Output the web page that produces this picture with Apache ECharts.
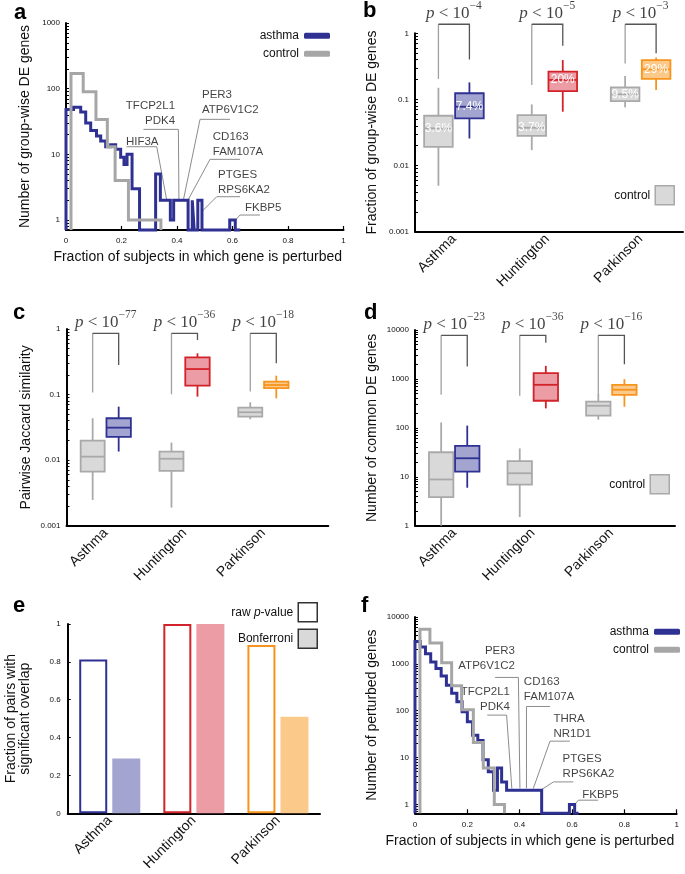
<!DOCTYPE html>
<html><head><meta charset="utf-8">
<script src="https://cdn.jsdelivr.net/npm/echarts@6/dist/echarts.min.js"></script>
<style>html,body{margin:0;padding:0;background:#fff}#c{width:685px;height:874px}</style>
</head><body><div id="c"></div>
<script>
// ================= DATA =================
const diseases = ['Asthma', 'Huntington', 'Parkinson'];
const fractionTickLabels = ['0', '0.2', '0.4', '0.6', '0.8', '1'];

// panel a: number of group-wise DE genes vs fraction of subjects (histogram outlines)
const aAsthmaEdges = [0, 0.027, 0.053, 0.071, 0.089, 0.11, 0.125, 0.143, 0.161, 0.179, 0.197, 0.209, 0.22, 0.238, 0.265, 0.323, 0.34, 0.376, 0.388, 0.44, 0.455, 0.462, 0.475, 0.49, 0.59, 0.61, 0.628];
const aAsthmaCounts = [48, 52, 44, 30, 23, 19, 16, 13, 14, 12, 9, 7, 10, 3, 0, 5, 2, 1, 2, 0, 2, 0, 2, 0, 1, 0];
const aControlEdges = [0.018, 0.062, 0.108, 0.149, 0.177, 0.225, 0.342];
const aControlCounts = [170, 90, 34, 13, 4, 1];
const aYDecades = [0, 1, 2, 3];
const aYTickLabels = ['1', '10', '100', '1000'];
const aGeneTexts = ['HIF3A', 'TFCP2L1\nPDK4', 'PER3\nATP6V1C2', 'CD163\nFAM107A', 'PTGES\nRPS6KA2', 'FKBP5'];
const aGeneAnchorsLog = [[0.216, 1.19], [0.393, 1.629], [0.49, 1.788], [0.529, 1.154], [0.548, 0.571], [0.645, 0.178]];
const aGeneAlign = ['left', 'right', 'left', 'left', 'left', 'left'];
const aGeneLeadersLog = [
  [[0.218, 1.116], [0.327, 1.116], [0.363, 0.304]],
  [[0.279, 1.38], [0.405, 1.38], [0.407, 0.279]],
  [[0.591, 1.533], [0.483, 1.533], [0.423, 0.304]],
  [[0.627, 0.924], [0.519, 0.924], [0.441, 0.315]],
  [[0.627, 0.355], [0.543, 0.355], [0.489, 0.126]],
  [[0.699, 0.076], [0.627, 0.076], [0.609, -0.01]]
];

// panel b: fraction of group-wise DE genes  [min, q1, median, q3, max]
const bControl = [[0.00495, 0.0192, 0.0365, 0.0567, 0.150], [0.0171, 0.0282, 0.0373, 0.0578, 0.084], [0.076, 0.0946, 0.12, 0.152, 0.226]];
const bDisease = [[0.0257, 0.0517, 0.0776, 0.124, 0.181], [0.0652, 0.134, 0.197, 0.263, 0.394], [0.139, 0.204, 0.285, 0.394, 0.43]];
const bControlLabels = ['3.6%', '3.7%', '9.5%'];
const bDiseaseLabels = ['7.4%', '20%', '29%'];
const bBrackets = [[0.204, 1.37, 0.40], [0.165, 1.37, 0.65], [0.35, 1.37, 0.50]]; // [left leg end, top, right leg end]
const bExponents = ['\u22124', '\u22125', '\u22123'];
const bYDecades = [-3, -2, -1, 0];
const bYTickLabels = ['0.001', '0.01', '0.1', '1'];

// panel c: pairwise Jaccard similarity
const cControl = [[0.00247, 0.00668, 0.0113, 0.0198, 0.0435], [0.00189, 0.00684, 0.0105, 0.0135, 0.0185], [0.042, 0.046, 0.0537, 0.063, 0.0763]];
const cDisease = [[0.0135, 0.0226, 0.0313, 0.0435, 0.0654], [0.093, 0.137, 0.245, 0.37, 0.426], [0.0877, 0.125, 0.14, 0.157, 0.194]];
const cBrackets = [[0.108, 0.86, 0.283], [0.101, 0.86, 0.68], [0.111, 0.86, 0.30]];
const cExponents = ['\u221277', '\u221236', '\u221218'];
const cYDecades = [-3, -2, -1, 0];
const cYTickLabels = ['0.001', '0.01', '0.1', '1'];

// panel d: number of common DE genes
const dControl = [[1, 3.85, 8.8, 31.7, 129], [1.5, 6.9, 11.8, 20.8, 38], [147, 177, 283, 342, 490]];
const dDisease = [[5.97, 12.8, 23.9, 43, 111], [250, 358, 758, 1312, 1850], [270, 474, 600, 758, 990]];
const dBrackets = [[474, 7800, 1790], [453, 7800, 5500], [470, 7800, 2000]];
const dExponents = ['\u221223', '\u221236', '\u221216'];
const dYDecades = [0, 1, 2, 3, 4];
const dYTickLabels = ['1', '10', '100', '1000', '10000'];

// panel e: fraction of pairs with significant overlap
const eRaw = [0.813, 1.0, 0.889];
const eBonferroni = [0.29, 1.0, 0.51];
const eYTickLabels = ['0', '0.2', '0.4', '0.6', '0.8', '1'];

// panel f: number of perturbed genes
const fAsthmaEdges = [0, 0.02, 0.04, 0.06, 0.08, 0.10, 0.12, 0.14, 0.16, 0.18, 0.20, 0.22, 0.24, 0.26, 0.28, 0.30, 0.315, 0.331, 0.35, 0.484, 0.59, 0.61, 0.625];
const fAsthmaCounts = [3000, 2300, 1650, 1100, 800, 550, 350, 235, 155, 95, 58, 30, 23, 9, 5, 2, 6, 3, 2, 0, 1, 0];
const fControlEdges = [0.019, 0.057, 0.102, 0.14, 0.178, 0.223, 0.261, 0.303, 0.342];
const fControlCounts = [5500, 2800, 1050, 340, 105, 21, 6, 1];
const fYDecades = [0, 1, 2, 3, 4];
const fYTickLabels = ['1', '10', '100', '1000', '10000'];
const fGeneTexts = ['PER3\nATP6V1C2', 'CD163\nFAM107A', 'TFCP2L1\nPDK4', 'THRA\nNR1D1', 'PTGES\nRPS6KA2', 'FKBP5'];
const fGeneAnchorsLog = [[0.382, 3.124], [0.416, 2.457], [0.363, 2.244], [0.529, 1.675], [0.564, 0.82], [0.639, 0.197]];
const fGeneAlign = ['right', 'left', 'right', 'left', 'left', 'left'];
const fGeneLeadersLog = [
  [[0.306, 2.71], [0.395, 2.71], [0.401, 0.34]],
  [[0.516, 2.09], [0.426, 2.09], [0.426, 0.346]],
  [[0.276, 1.906], [0.35, 1.906], [0.37, 0.34]],
  [[0.592, 1.35], [0.516, 1.35], [0.452, 0.34]],
  [[0.605, 0.48], [0.529, 0.48], [0.484, 0.318]],
  [[0.70, 0.09], [0.624, 0.09], [0.605, -0.04]]
];

// ================= STYLE =================
const FONT = 'Liberation Sans';
const SERIF = 'Liberation Serif';
const BLUE = '#2e3192', RED = '#d2232a', ORANGE = '#f7941d';
const diseaseStroke = [BLUE, RED, ORANGE];
const diseaseFill = ['#a3a5d0', '#eb9ca4', '#fbc98a'];
const CTRL_STROKE = '#a9a9a9', CTRL_FILL = '#d9d9d9', LINE_GRAY = '#a6a6a6';
const TXT = '#111';

// ================= HELPERS =================
const lg = v => Math.log10(v);
function logTicks(lo, hi) {
  const t = [];
  for (let d = Math.floor(lo) - 1; d <= Math.ceil(hi); d++)
    for (let k = 1; k <= 9; k++) { const v = d + Math.log10(k); if (v >= lo - 1e-9 && v <= hi + 1e-9) t.push(v); }
  return t;
}
function stepPoints(edges, counts, base) {
  const pts = [[edges[0], base]];
  counts.forEach((c, i) => { const y = c > 0 ? lg(c) : base; pts.push([edges[i], y], [edges[i + 1], y]); });
  pts.push([edges[edges.length - 1], base]);
  return pts;
}
const axisLine = { show: true, onZero: false, lineStyle: { color: '#000', width: 2 } };
const nameStyle = { fontSize: 14, color: TXT, fontFamily: FONT };

function logYAxis(gi, min, max, decades, labels, name, nameGap) {
  return {
    type: 'value', gridIndex: gi, min, max, name, nameLocation: 'middle', nameGap, nameTextStyle: nameStyle,
    axisLine, splitLine: { show: false },
    axisTick: { show: true, inside: true, length: 3, customValues: logTicks(min, max), lineStyle: { color: '#000', width: 1 } },
    axisLabel: { show: true, customValues: decades, formatter: v => labels[decades.indexOf(Math.round(v))], fontSize: 8, color: TXT, margin: 6, fontFamily: FONT }
  };
}
function fracXAxis(gi, nameGap, shift) {
  return {
    type: 'value', gridIndex: gi, min: 0, max: 1, interval: 0.2,
    name: 'Fraction of subjects in which gene is perturbed', nameLocation: 'middle', nameGap,
    nameTextStyle: Object.assign({ padding: [0, shift, 0, 0] }, nameStyle),
    axisLine, splitLine: { show: false },
    axisTick: { show: true, inside: true, length: 4, lineStyle: { color: '#000', width: 1.2 } },
    axisLabel: { fontSize: 8, color: TXT, margin: 7, formatter: v => fractionTickLabels[Math.round(v * 5)] }
  };
}
function groupXAxis(gi, min, max) {
  return {
    type: 'value', gridIndex: gi, min, max, axisLine, splitLine: { show: false }, axisTick: { show: false },
    axisLabel: { customValues: [1, 2, 3], formatter: v => diseases[Math.round(v) - 1], rotate: 45, fontSize: 14, color: TXT, margin: 5, fontFamily: FONT }
  };
}
function boxSeries(name, gi, rows, offset, strokes, fills, labels, hw) {
  return {
    type: 'custom', name, xAxisIndex: gi, yAxisIndex: gi, clip: false, silent: true,
    encode: { x: 0, y: [1, 2, 3, 4, 5] },
    data: rows.map((r, i) => [i + 1 + offset].concat(r.map(lg))),
    renderItem: (params, api) => {
      const i = params.dataIndex;
      const x = api.value(0);
      const p = [1, 2, 3, 4, 5].map(k => api.coord([x, api.value(k)]));
      const stroke = strokes[i], fill = fills[i];
      const lw = 1.8;
      const ch = [
        { type: 'line', shape: { x1: p[0][0], y1: p[0][1], x2: p[1][0], y2: p[1][1] }, style: { stroke, lineWidth: lw } },
        { type: 'line', shape: { x1: p[3][0], y1: p[3][1], x2: p[4][0], y2: p[4][1] }, style: { stroke, lineWidth: lw } },
        { type: 'rect', shape: { x: p[3][0] - hw, y: p[3][1], width: 2 * hw, height: p[1][1] - p[3][1] }, style: { fill, stroke, lineWidth: lw } },
        { type: 'line', shape: { x1: p[2][0] - hw, y1: p[2][1], x2: p[2][0] + hw, y2: p[2][1] }, style: { stroke, lineWidth: lw } }
      ];
      if (labels) ch.push({ type: 'text', style: { text: labels[i], x: p[2][0], y: p[2][1], align: 'center', verticalAlign: 'middle', textAlign: 'center', textVerticalAlign: 'middle', fill: '#fff', fontSize: 12, fontFamily: FONT } });
      return { type: 'group', children: ch };
    }
  };
}
function bracketSeries(gi, brackets, off) {
  const data = [];
  brackets.forEach((b, i) => {
    const xl = i + 1 - off, xr = i + 1 + off, top = lg(b[1]);
    data.push({ coords: [[xl, lg(b[0])], [xl, top]], lineStyle: { color: '#a0a0a0' } });
    data.push({ coords: [[xl, top], [xr, top], [xr, lg(b[2])]], lineStyle: { color: '#555' } });
  });
  return { type: 'lines', coordinateSystem: 'cartesian2d', xAxisIndex: gi, yAxisIndex: gi, polyline: true, clip: false, silent: true, lineStyle: { width: 1.3, opacity: 1 }, data };
}
const pRich = {
  i: { fontFamily: SERIF, fontStyle: 'italic', fontSize: 17, lineHeight: 22, verticalAlign: 'bottom', color: TXT },
  r: { fontFamily: SERIF, fontSize: 17, lineHeight: 22, verticalAlign: 'bottom', color: TXT },
  s: { fontFamily: SERIF, fontSize: 11.5, lineHeight: 12, verticalAlign: 'top', color: TXT }
};
function pSeries(gi, brackets, exps) {
  return {
    type: 'scatter', xAxisIndex: gi, yAxisIndex: gi, symbolSize: 0, clip: false, silent: true,
    data: brackets.map((b, i) => ({ value: [i + 1, lg(b[1])], label: { formatter: '{i|p}{r| < 10}{s|' + exps[i] + '}' } })),
    label: { show: true, position: 'inside', offset: [0, -13], rich: pRich }
  };
}
function leaderSeries(gi, leaders) {
  return { type: 'lines', coordinateSystem: 'cartesian2d', xAxisIndex: gi, yAxisIndex: gi, polyline: true, clip: false, silent: true,
    lineStyle: { color: '#8c8c8c', width: 1, opacity: 1 }, data: leaders.map(c => ({ coords: c })) };
}
function geneLabelSeries(gi, texts, anchors, aligns) {
  return {
    type: 'scatter', xAxisIndex: gi, yAxisIndex: gi, symbolSize: 0, clip: false, silent: true,
    data: texts.map((t, i) => ({ value: anchors[i], name: t, label: { align: aligns[i] } })),
    label: { show: true, position: 'inside', formatter: p => p.name, fontSize: 11.5, lineHeight: 15, color: TXT, fontFamily: FONT, verticalAlign: 'middle' }
  };
}
function stepSeries(name, gi, edges, counts, base, color) {
  return { type: 'line', name, xAxisIndex: gi, yAxisIndex: gi, data: stepPoints(edges, counts, base), symbol: 'none', clip: false, silent: true,
    color, lineStyle: { color, width: 3, join: 'miter' } };
}

// ================= LAYOUT =================
const A_MIN = -0.152, F_MIN = -0.19;
const OFF_B = 0.166, OFF_C = 0.165, OFF_D = 0.166;
const grids = [
  { left: 66, top: 23, width: 277.5, height: 207 },
  { left: 415, top: 33.3, width: 268, height: 198.4 },
  { left: 66.5, top: 329, width: 261.8, height: 196.7 },
  { left: 415, top: 330, width: 260, height: 195.7 },
  { left: 67.7, top: 624, width: 252.3, height: 189.3 },
  { left: 415, top: 617, width: 261.7, height: 196.3 }
].map(g => Object.assign({ containLabel: false, outerBoundsMode: 'none' }, g));

const xAxes = [
  fracXAxis(0, 20, 14),
  groupXAxis(1, 0.583, 3.454),
  groupXAxis(2, 0.503, 3.825),
  groupXAxis(3, 0.501, 3.81),
  { type: 'category', gridIndex: 4, data: diseases, axisLine, axisTick: { show: false },
    axisLabel: { interval: 0, rotate: 45, fontSize: 14, color: TXT, margin: 5, fontFamily: FONT } },
  fracXAxis(5, 21, 32)
];
const yAxes = [
  logYAxis(0, A_MIN, 3, aYDecades, aYTickLabels, 'Number of group-wise DE genes', 34),
  logYAxis(1, -3, 0, bYDecades, bYTickLabels, 'Fraction of group-wise DE genes', 36),
  logYAxis(2, -3, 0, cYDecades, cYTickLabels, 'Pairwise Jaccard similarity', 33),
  logYAxis(3, 0, 4, dYDecades, dYTickLabels, 'Number of common DE genes', 36),
  { type: 'value', gridIndex: 4, min: 0, max: 1, interval: 0.2, name: 'Fraction of pairs with\nsignificant overlap',
    nameLocation: 'middle', nameGap: 35, nameTextStyle: Object.assign({ lineHeight: 14.5 }, nameStyle),
    axisLine, splitLine: { show: false },
    axisTick: { show: true, inside: true, length: 3, lineStyle: { color: '#000', width: 1 } },
    axisLabel: { fontSize: 8, color: TXT, margin: 7, formatter: v => eYTickLabels[Math.round(v * 5)] } },
  logYAxis(5, F_MIN, 4, fYDecades, fYTickLabels, 'Number of perturbed genes', 36)
];

const series = [
  // a
  stepSeries('asthma', 0, aAsthmaEdges, aAsthmaCounts, A_MIN, BLUE),
  stepSeries('control', 0, aControlEdges, aControlCounts, A_MIN, LINE_GRAY),
  leaderSeries(0, aGeneLeadersLog),
  geneLabelSeries(0, aGeneTexts, aGeneAnchorsLog, aGeneAlign),
  // b
  bracketSeries(1, bBrackets, OFF_B),
  boxSeries('control', 1, bControl, -OFF_B, [CTRL_STROKE, CTRL_STROKE, CTRL_STROKE], [CTRL_FILL, CTRL_FILL, CTRL_FILL], bControlLabels, 14.3),
  boxSeries('disease', 1, bDisease, OFF_B, diseaseStroke, diseaseFill, bDiseaseLabels, 14.3),
  pSeries(1, bBrackets, bExponents),
  // c
  bracketSeries(2, cBrackets, OFF_C),
  boxSeries('control', 2, cControl, -OFF_C, [CTRL_STROKE, CTRL_STROKE, CTRL_STROKE], [CTRL_FILL, CTRL_FILL, CTRL_FILL], null, 12),
  boxSeries('disease', 2, cDisease, OFF_C, diseaseStroke, diseaseFill, null, 12.2),
  pSeries(2, cBrackets, cExponents),
  // d
  bracketSeries(3, dBrackets, OFF_D),
  boxSeries('control', 3, dControl, -OFF_D, [CTRL_STROKE, CTRL_STROKE, CTRL_STROKE], [CTRL_FILL, CTRL_FILL, CTRL_FILL], null, 12.2),
  boxSeries('disease', 3, dDisease, OFF_D, diseaseStroke, diseaseFill, null, 12.2),
  pSeries(3, dBrackets, dExponents),
  // e
  { type: 'bar', name: 'raw p-value', xAxisIndex: 4, yAxisIndex: 4, barWidth: 28, barGap: '18%', silent: true,
    data: eRaw.map((v, i) => ({ value: v, itemStyle: { color: '#fff', borderColor: diseaseStroke[i], borderWidth: 2 } })) },
  { type: 'bar', name: 'Bonferroni', xAxisIndex: 4, yAxisIndex: 4, barWidth: 28, barGap: '18%', silent: true,
    data: eBonferroni.map((v, i) => ({ value: v, itemStyle: { color: diseaseFill[i] } })) },
  // f
  stepSeries('asthma', 5, fAsthmaEdges, fAsthmaCounts, F_MIN, BLUE),
  stepSeries('control', 5, fControlEdges, fControlCounts, F_MIN, LINE_GRAY),
  leaderSeries(5, fGeneLeadersLog),
  geneLabelSeries(5, fGeneTexts, fGeneAnchorsLog, fGeneAlign)
];

const lineLegendData = [{ name: 'asthma', itemStyle: { color: BLUE } }, { name: 'control', itemStyle: { color: LINE_GRAY } }];
const boxLegendData = [{ name: 'control', itemStyle: { color: CTRL_FILL, borderColor: CTRL_STROKE, borderWidth: 1.5 } }];
const legendText = { fontSize: 12, color: TXT, fontFamily: FONT };
const legends = [
  { right: 355, top: 29.7, orient: 'vertical', align: 'right', padding: 0, itemGap: 6, itemWidth: 26, itemHeight: 6, icon: 'roundRect', selectedMode: false, data: lineLegendData, textStyle: legendText },
  { right: 5, top: 625.7, orient: 'vertical', align: 'right', padding: 0, itemGap: 6, itemWidth: 26, itemHeight: 6, icon: 'roundRect', selectedMode: false, data: lineLegendData, textStyle: legendText },
  { right: 10, top: 185, align: 'right', padding: 0, itemWidth: 19, itemHeight: 19, icon: 'rect', selectedMode: false, data: boxLegendData, textStyle: legendText },
  { right: 15, top: 474, align: 'right', padding: 0, itemWidth: 19, itemHeight: 19, icon: 'rect', selectedMode: false, data: boxLegendData, textStyle: legendText },
  { right: 367, top: 602, orient: 'vertical', align: 'right', padding: 0, itemGap: 6, itemWidth: 19, itemHeight: 19, icon: 'rect', selectedMode: false,
    data: [{ name: 'raw p-value', itemStyle: { color: '#fff', borderColor: '#333', borderWidth: 1.5 } },
           { name: 'Bonferroni', itemStyle: { color: CTRL_FILL, borderColor: '#333', borderWidth: 1.5 } }],
    formatter: n => n === 'raw p-value' ? '{n|raw }{i|p}{n|-value}' : '{n|' + n + '}',
    textStyle: Object.assign({ rich: { n: legendText, i: Object.assign({ fontStyle: 'italic' }, legendText) } }, legendText) }
];

const letters = [['a', 14, 12.5], ['b', 363, 10.5], ['c', 13, 312.5], ['d', 364, 312.5], ['e', 13, 605.5], ['f', 361, 605.5]];
const graphic = letters.map(l => ({ type: 'text', x: l[1], y: l[2], silent: true,
  style: { text: l[0], fill: '#000', font: 'bold 22px "Liberation Sans"', verticalAlign: 'middle', textVerticalAlign: 'middle' } }));

const chart = echarts.init(document.getElementById('c'), null, { renderer: 'canvas' });
chart.setOption({
  animation: false,
  backgroundColor: '#fff',
  textStyle: { fontFamily: FONT },
  grid: grids, xAxis: xAxes, yAxis: yAxes, series, legend: legends, graphic
});
</script></body></html>
